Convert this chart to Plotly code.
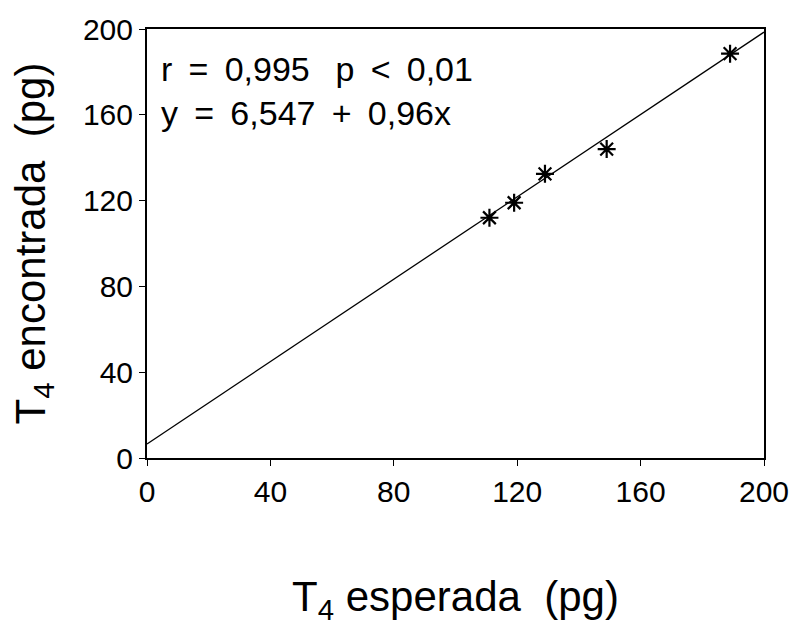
import plotly.graph_objects as go

# Expected vs. measured T4 amounts (pg)
t4_esperada = [111, 119, 129, 149, 189]
t4_encontrada = [112, 119, 132.5, 144, 188.5]

# Regression line coefficients
intercept = 6.547
slope = 0.96
line_x = [0, 200]
line_y = [intercept + slope * v for v in line_x]

tick_vals = [0, 40, 80, 120, 160, 200]

font_family = "Liberation Sans, Arial, sans-serif"
NB = "\u00a0"
TH = "\u2009"

fig = go.Figure()
fig.add_trace(go.Scatter(
    x=line_x, y=line_y, mode="lines",
    line=dict(color="black", width=1.3),
    showlegend=False, hoverinfo="skip",
))
fig.add_trace(go.Scatter(
    x=t4_esperada, y=t4_encontrada, mode="markers",
    marker=dict(symbol="asterisk-open", size=15, color="black",
                line=dict(color="black", width=2.2)),
    showlegend=False,
))

sp = NB + TH
line1 = f"r{sp}={sp}0,995{NB}{NB}{TH}p{sp}<{sp}0,01"
line2 = f"y{sp}={sp}6,547{sp}+{sp}0,96x"
fig.add_annotation(
    x=0.02, y=0.955, xref="paper", yref="paper", xanchor="left", yanchor="top",
    text=line1 + "<br>" + line2,
    showarrow=False, align="left",
    font=dict(family=font_family, size=34, color="black"),
)

axis_common = dict(
    range=[0, 200], tickvals=tick_vals, showgrid=False, zeroline=False,
    showline=True, linecolor="black", linewidth=2, mirror=True,
    ticks="outside", ticklen=6, tickcolor="black", tickwidth=1,
    tickfont=dict(family=font_family, size=30, color="black"),
)

fig.update_layout(
    width=801, height=626,
    margin=dict(l=147, r=34, t=21, b=168),
    plot_bgcolor="white", paper_bgcolor="white",
    xaxis=dict(**axis_common,
               title=dict(text=f"T<sub>4</sub>{NB}esperada{NB}{NB}(pg)", standoff=75,
                          font=dict(family=font_family, size=42, color="black"))),
    yaxis=dict(**axis_common,
               title=dict(text=f"T<sub>4</sub>{NB}encontrada{NB}{NB}(pg)", standoff=24,
                          font=dict(family=font_family, size=42, color="black"))),
)

fig.write_html("out.html")
